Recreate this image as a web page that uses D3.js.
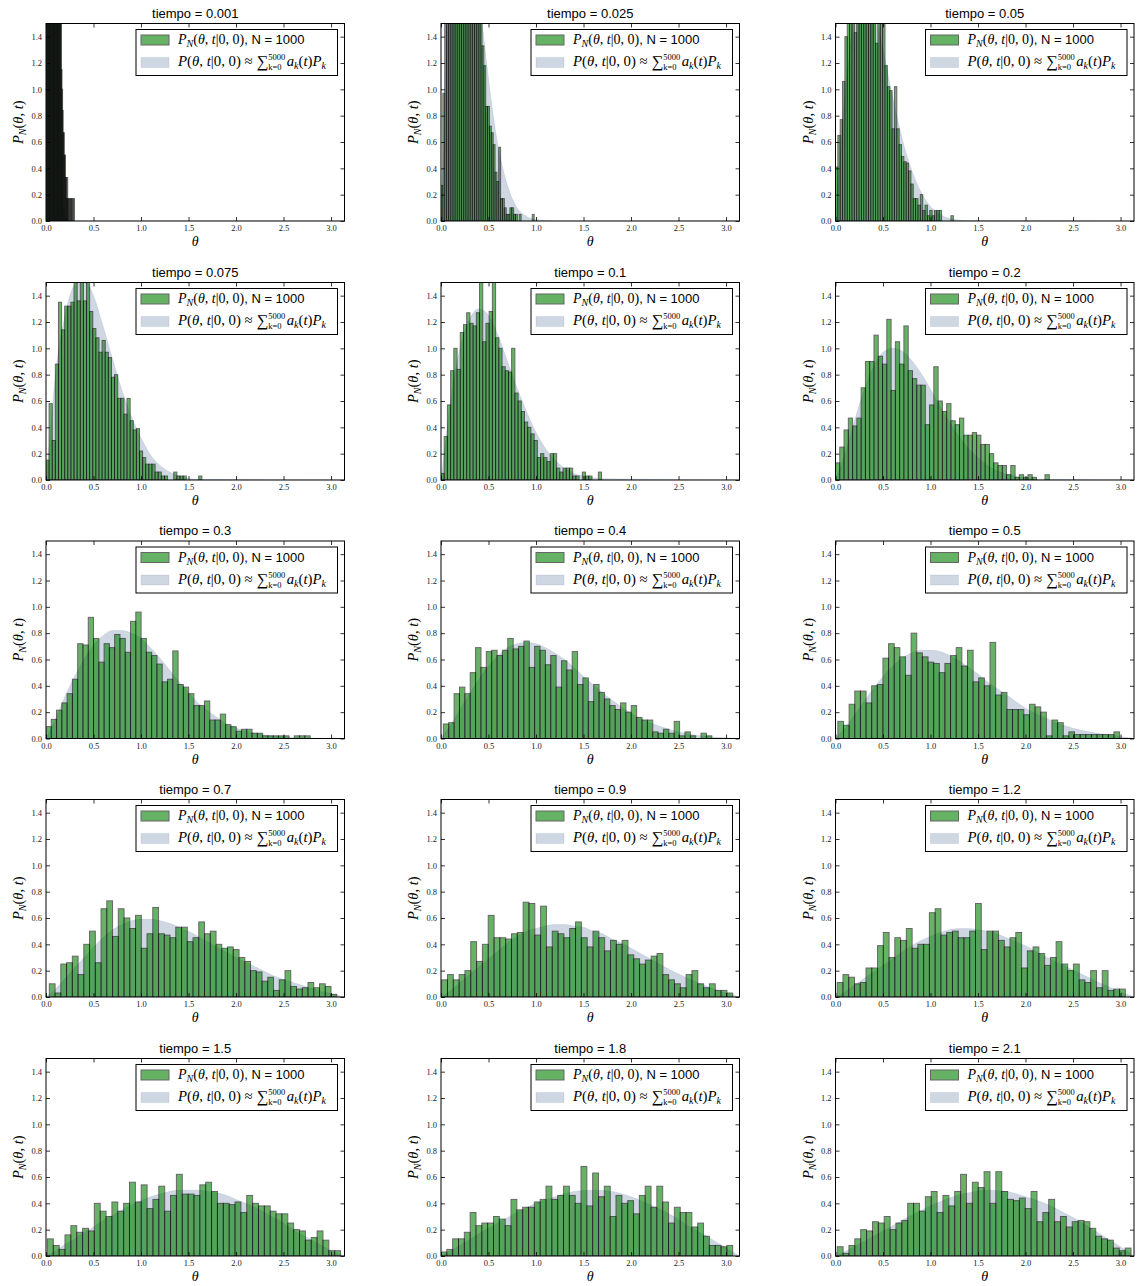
<!DOCTYPE html>
<html>
<head>
<meta charset="utf-8">
<script src="https://cdn.jsdelivr.net/npm/d3@7"></script>
<style>
  body { margin: 0; background: #fff; }
</style>
</head>
<body>
<svg id="fig"></svg>
<script>
// tiempos de cada panel
const times = ['0.001', '0.025', '0.05', '0.075', '0.1', '0.2', '0.3', '0.4', '0.5', '0.7', '0.9', '1.2', '1.5', '1.8', '2.1'];

// rango de los 50 bins de cada histograma (min, max de la muestra)
const binLo = [0.001, 0.0, 0.0, 0.0, 0.0, 0.0, 0.0, 0.025, 0.025, 0.035, 0.007, 0.018, 0.015, 0.0, 0.018];
const binHi = [0.300, 0.98, 1.24, 1.64, 1.69, 2.25, 2.78, 2.85, 2.99, 3.06, 3.07, 3.05, 3.10, 3.07, 3.11];

// densidades P_N de cada bin
const dens_t0001 = [1.7, 2.3, 3.9, 5.2, 6.5, 7.4, 8.0, 8.4, 8.7, 8.9, 8.7, 8.5, 8.2, 7.9, 7.5, 7.0, 6.5, 6.0, 5.5, 5.0,
  4.4, 3.8, 3.2, 2.7, 2.3, 1.9, 1.6, 1.15, 1.0, 0.84, 0.67, 0.67, 0.5, 0.5, 0.33, 0.33, 0.17, 0.33, 0.17, 0.17,
  0, 0.17, 0.17, 0, 0.17, 0.17, 0, 0.17, 0, 0.17];
const dens_t0025 = [0.27, 0.97, 1.9, 2.3, 2.6, 2.8, 2.9, 3.0, 2.9, 2.8, 2.7, 2.5, 2.4, 2.2, 2.0, 1.9, 1.8, 1.7, 1.6, 1.55,
  1.6, 1.52, 1.33, 1.18, 0.87, 0.87, 0.72, 0.67, 0.58, 0.37, 0.3, 0.56, 0.17, 0.17, 0.1, 0.05, 0.05, 0.1, 0.1, 0.05,
  0.05, 0, 0.05, 0, 0, 0, 0, 0, 0, 0.05];
const dens_t005 = [0.41, 0.65, 0.77, 1.06, 1.4, 1.6, 1.7, 1.8, 1.43, 1.9, 1.9, 1.8, 1.7, 1.75, 1.6, 1.65, 1.7, 1.35, 1.6, 1.55,
  1.5, 1.18, 1.02, 0.99, 0.7, 1.02, 0.7, 0.58, 0.49, 0.45, 0.44, 0.38, 0.28, 0.17, 0.17, 0.12, 0.2, 0.08, 0.12, 0.04,
  0.08, 0.04, 0.08, 0.08, 0.08, 0, 0, 0, 0, 0.04];
const dens_t0075 = [0.15, 0.58, 0.3, 0.88, 1.35, 1.14, 1.32, 1.32, 1.35, 1.6, 1.36, 1.55, 1.36, 1.6, 1.28, 1.15, 1.08, 0.97, 1.06, 0.97,
  0.93, 0.78, 0.8, 0.62, 0.62, 0.5, 0.62, 0.45, 0.38, 0.39, 0.22, 0.17, 0.12, 0.12, 0.12, 0.06, 0.06, 0.03, 0.03, 0,
  0, 0.06, 0.03, 0.03, 0.03, 0, 0, 0, 0, 0.03];
const dens_t01 = [0.05, 0.33, 0.57, 0.83, 1.0, 0.84, 1.12, 1.18, 1.27, 1.19, 1.17, 1.27, 1.6, 1.05, 1.19, 1.28, 1.6, 1.08, 1.0, 0.86,
  0.83, 0.82, 1.0, 0.66, 0.6, 0.52, 0.44, 0.4, 0.35, 0.3, 0.17, 0.2, 0.17, 0.14, 0.2, 0.2, 0.09, 0.06, 0.09, 0.09,
  0.09, 0.03, 0.03, 0, 0.06, 0.03, 0.03, 0, 0, 0.06];
const dens_t02 = [0.13, 0.25, 0.38, 0.47, 0.41, 0.47, 0.7, 0.9, 0.9, 1.1, 0.94, 0.88, 1.22, 0.68, 1.05, 0.88, 1.17, 0.83, 0.77, 0.72,
  0.72, 0.42, 0.57, 0.86, 0.6, 0.52, 0.58, 0.45, 0.42, 0.47, 0.34, 0.34, 0.36, 0.34, 0.27, 0.27, 0.2, 0.13, 0.11, 0.11,
  0.04, 0.11, 0.02, 0.04, 0.02, 0.04, 0.02, 0, 0, 0.04];
const dens_t03 = [0.09, 0.145, 0.215, 0.27, 0.34, 0.45, 0.72, 0.71, 0.92, 0.76, 0.58, 0.72, 0.69, 0.79, 0.76, 0.655, 0.89, 0.96, 0.76, 0.655,
  0.63, 0.565, 0.43, 0.45, 0.665, 0.41, 0.39, 0.34, 0.25, 0.25, 0.285, 0.14, 0.14, 0.185, 0.105, 0.09, 0.055, 0.07, 0.07, 0.04,
  0.04, 0.02, 0.02, 0.02, 0.02, 0.02, 0, 0.02, 0.02, 0.02];
const dens_t04 = [0.11, 0.12, 0.34, 0.39, 0.34, 0.5, 0.69, 0.54, 0.66, 0.67, 0.63, 0.67, 0.76, 0.68, 0.7, 0.74, 0.54, 0.7, 0.67, 0.56,
  0.63, 0.39, 0.59, 0.52, 0.66, 0.41, 0.46, 0.28, 0.41, 0.35, 0.3, 0.25, 0.22, 0.27, 0.2, 0.25, 0.16, 0.14, 0.14, 0.05,
  0.04, 0.07, 0.04, 0.13, 0.02, 0.05, 0.02, 0, 0.04, 0.02];
const dens_t05 = [0.13, 0.1, 0.26, 0.36, 0.36, 0.27, 0.4, 0.41, 0.61, 0.72, 0.69, 0.62, 0.48, 0.8, 0.65, 0.62, 0.58, 0.57, 0.5, 0.57,
  0.63, 0.69, 0.55, 0.67, 0.43, 0.46, 0.4, 0.73, 0.33, 0.35, 0.22, 0.22, 0.22, 0.18, 0.26, 0.24, 0.2, 0.02, 0.14, 0.12,
  0.02, 0.05, 0.03, 0.03, 0.03, 0.03, 0.03, 0.03, 0.03, 0.05];
const dens_t07 = [0.1, 0.03, 0.25, 0.26, 0.31, 0.17, 0.4, 0.5, 0.26, 0.67, 0.73, 0.46, 0.67, 0.6, 0.52, 0.62, 0.37, 0.48, 0.68, 0.48,
  0.47, 0.45, 0.53, 0.53, 0.42, 0.45, 0.57, 0.48, 0.5, 0.4, 0.37, 0.38, 0.36, 0.3, 0.27, 0.2, 0.19, 0.12, 0.15, 0.05,
  0.13, 0.2, 0.08, 0.06, 0.07, 0.11, 0.07, 0.1, 0.08, 0.02];
const dens_t09 = [0.13, 0.17, 0.13, 0.17, 0.2, 0.42, 0.27, 0.4, 0.62, 0.45, 0.45, 0.44, 0.48, 0.49, 0.72, 0.71, 0.47, 0.69, 0.38, 0.5,
  0.48, 0.45, 0.52, 0.57, 0.45, 0.38, 0.5, 0.45, 0.35, 0.43, 0.4, 0.43, 0.32, 0.29, 0.25, 0.28, 0.31, 0.33, 0.17, 0.13,
  0.1, 0.07, 0.17, 0.2, 0.1, 0.07, 0.1, 0.05, 0.05, 0.03];
const dens_t12 = [0.11, 0.17, 0.15, 0.1, 0.11, 0.22, 0.22, 0.39, 0.49, 0.3, 0.45, 0.43, 0.52, 0.37, 0.4, 0.4, 0.64, 0.67, 0.47, 0.49,
  0.5, 0.45, 0.45, 0.5, 0.71, 0.36, 0.5, 0.5, 0.43, 0.38, 0.45, 0.49, 0.22, 0.35, 0.38, 0.33, 0.24, 0.3, 0.42, 0.25,
  0.2, 0.25, 0.13, 0.11, 0.2, 0.07, 0.2, 0.05, 0.06, 0.06];
const dens_t15 = [0.13, 0.08, 0.05, 0.16, 0.23, 0.18, 0.21, 0.19, 0.4, 0.34, 0.3, 0.41, 0.34, 0.4, 0.56, 0.41, 0.54, 0.36, 0.43, 0.53,
  0.34, 0.46, 0.62, 0.47, 0.47, 0.46, 0.54, 0.56, 0.49, 0.4, 0.4, 0.39, 0.41, 0.33, 0.46, 0.4, 0.38, 0.38, 0.34, 0.32,
  0.32, 0.25, 0.2, 0.19, 0.12, 0.14, 0.19, 0.12, 0.04, 0.04];
const dens_t18 = [0.03, 0.05, 0.13, 0.13, 0.18, 0.33, 0.23, 0.25, 0.25, 0.3, 0.28, 0.23, 0.43, 0.35, 0.37, 0.37, 0.41, 0.43, 0.53, 0.43,
  0.46, 0.53, 0.46, 0.4, 0.68, 0.38, 0.63, 0.45, 0.53, 0.3, 0.46, 0.4, 0.42, 0.32, 0.46, 0.53, 0.37, 0.53, 0.41, 0.25,
  0.37, 0.33, 0.33, 0.22, 0.25, 0.15, 0.08, 0.08, 0.07, 0.08];
const dens_t21 = [0.07, 0.02, 0.08, 0.13, 0.2, 0.19, 0.26, 0.25, 0.3, 0.2, 0.25, 0.27, 0.4, 0.4, 0.34, 0.45, 0.49, 0.33, 0.46, 0.38,
  0.49, 0.62, 0.4, 0.56, 0.52, 0.64, 0.4, 0.64, 0.49, 0.43, 0.42, 0.44, 0.36, 0.49, 0.26, 0.33, 0.43, 0.26, 0.3, 0.22,
  0.26, 0.27, 0.26, 0.21, 0.15, 0.13, 0.12, 0.06, 0.04, 0.06];

// solucion exacta P(theta,t): pares [theta, P]
const PI = Math.PI;
const exact_t0001 = [[0, 0], [0.01, 2.5], [0.02, 5.5], [0.04, 9], [0.06, 9.3], [0.08, 7.5], [0.1, 5], [0.12, 2.8], [0.14, 1.3], [0.16, 0.5], [0.18, 0.16], [0.2, 0.04], [0.25, 0], [PI, 0]];
const exact_t0025 = [[0, 0], [0.03, 0.6], [0.06, 1.3], [0.1, 2.1], [0.15, 2.7], [0.2, 3.0], [0.25, 2.95], [0.3, 2.7], [0.35, 2.25], [0.4, 1.75], [0.45, 1.4], [0.5, 1.08], [0.55, 0.8], [0.6, 0.57], [0.65, 0.4], [0.7, 0.27], [0.75, 0.17], [0.8, 0.1], [0.9, 0.035], [1.0, 0.012], [1.2, 0], [PI, 0]];
const exact_t005 = [[0, 0], [0.05, 0.5], [0.1, 0.95], [0.15, 1.3], [0.2, 1.58], [0.25, 1.72], [0.3, 1.78], [0.35, 1.74], [0.4, 1.63], [0.45, 1.47], [0.5, 1.3], [0.55, 1.12], [0.6, 0.95], [0.65, 0.78], [0.7, 0.63], [0.75, 0.5], [0.8, 0.39], [0.9, 0.22], [1.0, 0.11], [1.1, 0.05], [1.2, 0.02], [1.4, 0.003], [PI, 0]];
const exact_t0075 = [[0, 0], [0.05, 0.4], [0.1, 0.8], [0.2, 1.25], [0.3, 1.48], [0.4, 1.52], [0.5, 1.4], [0.6, 1.17], [0.7, 0.92], [0.8, 0.68], [0.9, 0.48], [1.0, 0.32], [1.1, 0.19], [1.2, 0.11], [1.3, 0.06], [1.4, 0.03], [1.6, 0.005], [PI, 0]];
const exact_t01 = [[0, 0], [0.05, 0.3], [0.1, 0.6], [0.2, 1.0], [0.3, 1.22], [0.4, 1.3], [0.5, 1.25], [0.6, 1.1], [0.7, 0.9], [0.8, 0.7], [0.9, 0.52], [1.0, 0.36], [1.1, 0.24], [1.2, 0.15], [1.3, 0.09], [1.4, 0.05], [1.5, 0.03], [1.7, 0.01], [PI, 0]];
const exact_t02 = [[0, 0], [0.1, 0.2], [0.2, 0.45], [0.3, 0.68], [0.4, 0.86], [0.5, 0.97], [0.6, 1.0], [0.7, 0.98], [0.8, 0.91], [0.9, 0.81], [1.0, 0.69], [1.1, 0.56], [1.2, 0.44], [1.3, 0.33], [1.4, 0.24], [1.5, 0.17], [1.6, 0.11], [1.7, 0.07], [1.8, 0.045], [2.0, 0.015], [2.2, 0.005], [PI, 0]];
const exact_t03 = [[0, 0], [0.1, 0.15], [0.2, 0.32], [0.3, 0.47], [0.4, 0.6], [0.5, 0.71], [0.6, 0.78], [0.7, 0.82], [0.8, 0.82], [0.9, 0.8], [1.0, 0.76], [1.1, 0.69], [1.2, 0.61], [1.3, 0.52], [1.4, 0.43], [1.5, 0.35], [1.6, 0.27], [1.7, 0.21], [1.8, 0.16], [1.9, 0.11], [2.0, 0.08], [2.2, 0.04], [2.4, 0.018], [2.6, 0.008], [2.8, 0.003], [PI, 0]];
const exact_t04 = [[0, 0], [0.1, 0.1], [0.2, 0.22], [0.3, 0.34], [0.4, 0.45], [0.5, 0.55], [0.6, 0.63], [0.7, 0.69], [0.8, 0.72], [0.9, 0.73], [1.0, 0.72], [1.1, 0.69], [1.2, 0.65], [1.3, 0.6], [1.4, 0.54], [1.5, 0.47], [1.6, 0.41], [1.7, 0.35], [1.8, 0.29], [1.9, 0.24], [2.0, 0.19], [2.2, 0.12], [2.4, 0.07], [2.6, 0.035], [2.8, 0.015], [3.0, 0.005], [PI, 0]];
const exact_t05 = [[0, 0], [0.1, 0.08], [0.2, 0.18], [0.3, 0.28], [0.4, 0.38], [0.5, 0.47], [0.6, 0.55], [0.7, 0.61], [0.8, 0.65], [0.9, 0.67], [1.0, 0.67], [1.1, 0.66], [1.2, 0.63], [1.3, 0.59], [1.4, 0.54], [1.5, 0.49], [1.6, 0.43], [1.7, 0.38], [1.8, 0.33], [1.9, 0.28], [2.0, 0.23], [2.2, 0.16], [2.4, 0.1], [2.6, 0.06], [2.8, 0.035], [3.0, 0.015], [PI, 0]];
const exact_t07 = [[0, 0], [0.1, 0.06], [0.2, 0.14], [0.3, 0.22], [0.4, 0.3], [0.5, 0.38], [0.6, 0.45], [0.7, 0.51], [0.8, 0.55], [0.9, 0.58], [1.0, 0.59], [1.1, 0.59], [1.2, 0.58], [1.3, 0.56], [1.4, 0.53], [1.5, 0.5], [1.6, 0.46], [1.7, 0.42], [1.8, 0.38], [1.9, 0.34], [2.0, 0.3], [2.2, 0.23], [2.4, 0.16], [2.6, 0.11], [2.8, 0.065], [3.0, 0.025], [PI, 0]];
const exact_t09 = [[0, 0], [0.1, 0.05], [0.2, 0.11], [0.3, 0.17], [0.4, 0.23], [0.5, 0.29], [0.6, 0.35], [0.7, 0.41], [0.8, 0.46], [0.9, 0.5], [1.0, 0.52], [1.1, 0.54], [1.2, 0.55], [1.3, 0.55], [1.4, 0.54], [1.5, 0.53], [1.6, 0.5], [1.7, 0.48], [1.8, 0.44], [1.9, 0.41], [2.0, 0.37], [2.2, 0.29], [2.4, 0.21], [2.6, 0.14], [2.8, 0.08], [3.0, 0.03], [PI, 0]];
const exact_t12 = [[0, 0], [0.1, 0.04], [0.2, 0.09], [0.3, 0.14], [0.4, 0.19], [0.5, 0.24], [0.6, 0.29], [0.7, 0.34], [0.8, 0.39], [0.9, 0.43], [1.0, 0.46], [1.1, 0.49], [1.2, 0.51], [1.3, 0.52], [1.4, 0.52], [1.5, 0.51], [1.6, 0.5], [1.7, 0.48], [1.8, 0.45], [1.9, 0.42], [2.0, 0.39], [2.2, 0.31], [2.4, 0.24], [2.6, 0.17], [2.8, 0.1], [3.0, 0.04], [PI, 0]];
const exact_t15 = [[0, 0], [0.1, 0.04], [0.2, 0.09], [0.3, 0.13], [0.4, 0.18], [0.5, 0.22], [0.6, 0.27], [0.7, 0.31], [0.8, 0.35], [0.9, 0.39], [1.0, 0.42], [1.1, 0.45], [1.2, 0.47], [1.3, 0.49], [1.4, 0.5], [1.5, 0.5], [1.6, 0.5], [1.7, 0.49], [1.8, 0.48], [1.9, 0.46], [2.0, 0.43], [2.1, 0.4], [2.2, 0.37], [2.3, 0.33], [2.4, 0.29], [2.5, 0.25], [2.6, 0.2], [2.7, 0.16], [2.8, 0.12], [2.9, 0.08], [3.0, 0.04], [3.1, 0.01], [PI, 0]];
const exact_t18 = [[0, 0], [0.2, 0.08], [0.4, 0.17], [0.6, 0.25], [0.8, 0.33], [1.0, 0.4], [1.2, 0.45], [1.4, 0.49], [1.6, 0.5], [1.8, 0.49], [2.0, 0.45], [2.2, 0.39], [2.4, 0.32], [2.6, 0.23], [2.8, 0.15], [3.0, 0.06], [PI, 0]];
const exact_t21 = [[0, 0], [0.2, 0.07], [0.4, 0.15], [0.6, 0.23], [0.8, 0.31], [1.0, 0.38], [1.2, 0.44], [1.4, 0.48], [1.6, 0.5], [1.8, 0.49], [2.0, 0.45], [2.2, 0.4], [2.4, 0.33], [2.6, 0.25], [2.8, 0.16], [3.0, 0.07], [PI, 0]];

const xTicks = [0, 0.5, 1.0, 1.5, 2.0, 2.5, 3.0];
const yTicks = [0, 0.2, 0.4, 0.6, 0.8, 1.0, 1.2, 1.4];

const histos = [dens_t0001, dens_t0025, dens_t005, dens_t0075, dens_t01, dens_t02, dens_t03, dens_t04,
  dens_t05, dens_t07, dens_t09, dens_t12, dens_t15, dens_t18, dens_t21];
const exacts = [exact_t0001, exact_t0025, exact_t005, exact_t0075, exact_t01, exact_t02, exact_t03, exact_t04,
  exact_t05, exact_t07, exact_t09, exact_t12, exact_t15, exact_t18, exact_t21];

// layout
const W = 1137, H = 1286;
const colLeft = [46, 441, 835.5];
const rowBottom = [221, 480, 738.5, 997, 1256];
const axW = 298.5, axH = 197.5;
const serif = "'Liberation Serif', 'DejaVu Serif', serif";
const sans = "'Liberation Sans', Arial, sans-serif";
const barColor = '#008000';
const fillColor = '#5f7f9f';
const fillAlpha = 0.3;
const NB = '\u00a0';

const svg = d3.select('#fig').attr('width', W).attr('height', H)
  .style('background', '#fff');

// texto tipo mathtext: piezas consecutivas, 'stack' reusa la x de la pieza anterior
function richText(g, x, y, pieces, base) {
  let cx = x, prevX = x;
  pieces.forEach(p => {
    const px = p.stack ? prevX : cx;
    const t = g.append('text')
      .attr('x', px).attr('y', y + (p.dy || 0))
      .attr('font-family', p.sans ? sans : serif)
      .attr('font-style', p.it ? 'italic' : 'normal')
      .attr('font-size', p.size || base)
      .attr('fill', '#000')
      .text(p.s);
    const w = t.node().getComputedTextLength();
    if (p.stack) cx = Math.max(cx, px + w);
    else { prevX = px; cx = px + w; }
  });
}

const label1 = [
  {s: 'P', it: true}, {s: 'N', it: true, size: 10, dy: 3},
  {s: '('}, {s: 'θ', it: true}, {s: ',' + NB}, {s: 't', it: true}, {s: '|0,' + NB + '0)'},
  {s: ',' + NB + 'N = 1000', sans: true, size: 13}
];
const label2 = [
  {s: 'P', it: true}, {s: '('}, {s: 'θ', it: true}, {s: ',' + NB}, {s: 't', it: true}, {s: '|0,' + NB + '0)' + NB + '≈' + NB},
  {s: '∑', size: 16.5, dy: 1}, {s: '5000', size: 8.5, dy: -6}, {s: 'k=0', size: 8.5, dy: 4, stack: true},
  {s: NB, size: 6}, {s: 'a', it: true}, {s: 'k', it: true, size: 10, dy: 3}, {s: '('}, {s: 't', it: true}, {s: ')'},
  {s: 'P', it: true}, {s: 'k', it: true, size: 10, dy: 3}
];

times.forEach((tm, p) => {
  const col = p % 3, row = Math.floor(p / 3);
  const left = colLeft[col], bottom = rowBottom[row], top = bottom - axH, right = left + axW;
  const x = d3.scaleLinear().domain([0, PI]).range([left, right]);
  const y = d3.scaleLinear().domain([0, 1.5]).range([bottom, top]);
  const g = svg.append('g');

  const clipId = 'clip' + p;
  g.append('clipPath').attr('id', clipId)
    .append('rect').attr('x', left).attr('y', top).attr('width', axW).attr('height', axH);
  const plot = g.append('g').attr('clip-path', `url(#${clipId})`);

  // solucion exacta (relleno)
  const area = d3.area()
    .x(d => x(d[0])).y0(y(0)).y1(d => y(d[1]))
    .curve(d3.curveMonotoneX);
  plot.append('path').datum(exacts[p])
    .attr('d', area)
    .attr('fill', fillColor).attr('fill-opacity', fillAlpha)
    .attr('stroke', fillColor).attr('stroke-opacity', 0.15).attr('stroke-width', 1);

  // histograma
  const vals = histos[p];
  const bw = (binHi[p] - binLo[p]) / vals.length;
  plot.selectAll('rect.bar').data(vals).join('rect')
    .attr('class', 'bar')
    .attr('x', (d, i) => x(binLo[p] + i * bw))
    .attr('width', (d, i) => x(binLo[p] + (i + 1) * bw) - x(binLo[p] + i * bw))
    .attr('y', d => y(d))
    .attr('height', d => y(0) - y(d))
    .attr('fill', barColor).attr('stroke', '#000').attr('stroke-width', 1)
    .attr('opacity', 0.6);

  // ejes (ticks hacia dentro en los cuatro lados)
  const fmt = d3.format('.1f');
  const axB = g.append('g').attr('transform', `translate(0,${bottom})`)
    .call(d3.axisBottom(x).tickValues(xTicks).tickFormat(fmt).tickSizeInner(-4).tickSizeOuter(0).tickPadding(4));
  const axT = g.append('g').attr('transform', `translate(0,${top})`)
    .call(d3.axisTop(x).tickValues(xTicks).tickFormat('').tickSizeInner(-4).tickSizeOuter(0));
  const axL = g.append('g').attr('transform', `translate(${left},0)`)
    .call(d3.axisLeft(y).tickValues(yTicks).tickFormat(fmt).tickSizeInner(-4).tickSizeOuter(0).tickPadding(4));
  const axR = g.append('g').attr('transform', `translate(${right},0)`)
    .call(d3.axisRight(y).tickValues(yTicks).tickFormat('').tickSizeInner(-4).tickSizeOuter(0));
  [axB, axT, axL, axR].forEach(a => {
    a.select('.domain').remove();
    a.selectAll('line').attr('stroke', '#000').attr('stroke-width', 0.8);
    a.selectAll('text').attr('font-family', serif).attr('font-size', 8.5).attr('fill', '#222');
  });

  g.append('rect').attr('x', left).attr('y', top).attr('width', axW).attr('height', axH)
    .attr('fill', 'none').attr('stroke', '#000').attr('stroke-width', 1);

  // titulo
  g.append('text').attr('x', (left + right) / 2).attr('y', top - 6)
    .attr('text-anchor', 'middle').attr('font-family', sans).attr('font-size', 13)
    .text('tiempo = ' + tm);

  // etiquetas de ejes
  g.append('text').attr('x', (left + right) / 2).attr('y', bottom + 25)
    .attr('text-anchor', 'middle').attr('font-family', serif).attr('font-style', 'italic')
    .attr('font-size', 14).text('θ');
  const yl = g.append('text')
    .attr('transform', `translate(${left - 23},${(top + bottom) / 2}) rotate(-90)`)
    .attr('text-anchor', 'middle').attr('font-family', serif).attr('font-size', 14.5);
  yl.append('tspan').attr('font-style', 'italic').text('P');
  yl.append('tspan').attr('font-style', 'italic').attr('font-size', 10).attr('dy', 3).text('N');
  yl.append('tspan').attr('dy', -3).text('(');
  yl.append('tspan').attr('font-style', 'italic').text('θ');
  yl.append('tspan').text(',' + NB);
  yl.append('tspan').attr('font-style', 'italic').text('t');
  yl.append('tspan').text(')');

  // leyenda
  const lx = left + 90, ly = top + 6;
  const lg = g.append('g');
  lg.append('rect').attr('x', lx).attr('y', ly).attr('width', axW - 97).attr('height', 46)
    .attr('fill', '#fff').attr('stroke', '#000').attr('stroke-width', 1);
  lg.append('rect').attr('x', lx + 5).attr('y', top + 11.5).attr('width', 28).attr('height', 10)
    .attr('fill', barColor).attr('stroke', '#000').attr('stroke-width', 1).attr('opacity', 0.6);
  lg.append('rect').attr('x', lx + 5).attr('y', top + 34).attr('width', 28).attr('height', 10)
    .attr('fill', fillColor).attr('fill-opacity', fillAlpha)
    .attr('stroke', fillColor).attr('stroke-opacity', 0.15);
  richText(lg, lx + 42, top + 20.5, label1, 14);
  richText(lg, lx + 42, top + 42.5, label2, 14.8);
});
</script>
</body>
</html>
